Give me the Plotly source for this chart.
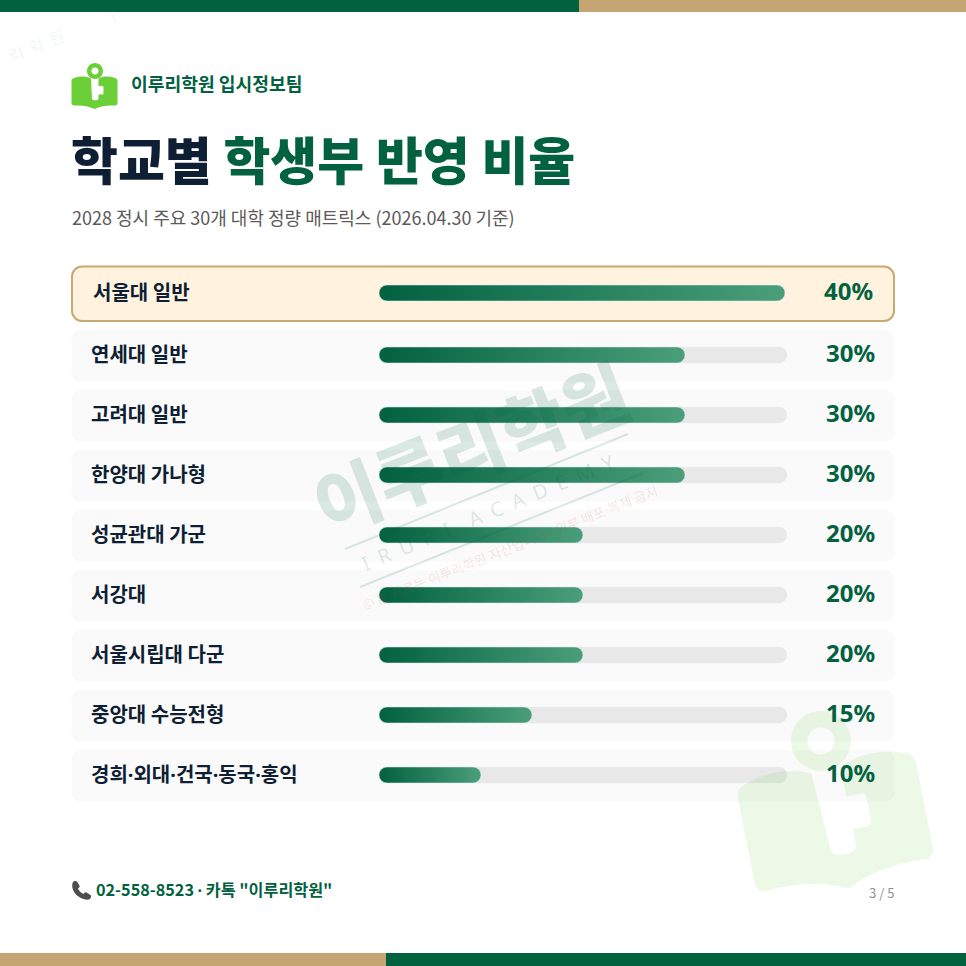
import math
import plotly.graph_objects as go

# Data
top_school = ["서울대 일반"]
top_value = [40]
schools = ["연세대 일반", "고려대 일반", "한양대 가나형", "성균관대 가군", "서강대",
           "서울시립대 다군", "중앙대 수능전형", "경희·외대·건국·동국·홍익"]
values = [30, 30, 30, 20, 20, 20, 15, 10]
value_labels = ["30%", "30%", "30%", "20%", "20%", "20%", "15%", "10%"]
top_label = ["40%"]

GREEN = "#02613f"
TAN = "#c5a572"
DARK = "#0f1f33"
LOGO = "#6ccf38"
FONT = "Noto Sans CJK KR"
SIZE = 966
# the CJK middle dot is full width, the reference has a narrow one
DOT = '<span style="font-family:Noto Sans">·</span>'


def px(x):
    return x / SIZE


def py(y):
    return 1 - y / SIZE


def to_paper(cmds):
    """Turn a list of (letter, x1, y1, x2, y2...) in pixels into a path in paper coords"""
    parts = []
    for c in cmds:
        nums = c[1:]
        pts = []
        for i in range(0, len(nums), 2):
            pts.append(f"{px(nums[i]):.5f},{py(nums[i + 1]):.5f}")
        parts.append(c[0] + " ".join(pts))
    return " ".join(parts)


def round_rect(x0, y0, x1, y1, r):
    k = r * 0.45
    return [
        ("M", x0 + r, y0), ("L", x1 - r, y0),
        ("C", x1 - k, y0, x1, y0 + k, x1, y0 + r),
        ("L", x1, y1 - r),
        ("C", x1, y1 - k, x1 - k, y1, x1 - r, y1),
        ("L", x0 + r, y1),
        ("C", x0 + k, y1, x0, y1 - k, x0, y1 - r),
        ("L", x0, y0 + r),
        ("C", x0, y0 + k, x0 + k, y0, x0 + r, y0),
        ("Z",),
    ]


def circle(cx, cy, r):
    k = r * 0.5523
    return [
        ("M", cx + r, cy),
        ("C", cx + r, cy + k, cx + k, cy + r, cx, cy + r),
        ("C", cx - k, cy + r, cx - r, cy + k, cx - r, cy),
        ("C", cx - r, cy - k, cx - k, cy - r, cx, cy - r),
        ("C", cx + k, cy - r, cx + r, cy - k, cx + r, cy),
        ("Z",),
    ]


def logo_cmds(ring):
    # book with a key shaped notch, on a 46 x 46 grid
    cmds = [
        ("M", 0, 18), ("C", 0, 16.5, 1, 15.5, 2.5, 15),
        ("C", 8, 13, 14, 13, 19.5, 15.5),
        ("L", 20.5, 35.5), ("C", 20.5, 38, 27, 38, 27, 35.5),
        ("L", 27, 31.5), ("L", 30.5, 31.5), ("C", 31.5, 31.5, 32, 31, 32, 30),
        ("L", 32, 24.5), ("C", 32, 23.5, 31.5, 23, 30.5, 23), ("L", 27, 23),
        ("L", 27, 15.5), ("C", 32, 13, 38, 13, 43.5, 15),
        ("C", 45, 15.5, 46, 16.5, 46, 18),
        ("L", 46, 40), ("C", 46, 41.5, 45, 42.5, 43.5, 42.5),
        ("C", 36, 42, 29, 43, 23, 46),
        ("C", 17, 43, 10, 42, 2.5, 42.5),
        ("C", 1, 42.5, 0, 41.5, 0, 40), ("Z",),
    ]
    cmds += circle(23.5, 8, ring)
    cmds += circle(23.5, 8, ring * 0.45)
    return cmds


def place_logo(cx, cy, scale, deg, ring=8):
    # moves the logo so the key ring centre lands on cx, cy
    t = math.radians(deg)
    out = []
    for c in logo_cmds(ring):
        nums = c[1:]
        new = [c[0]]
        for i in range(0, len(nums), 2):
            x = (nums[i] - 23.5) * scale
            y = (nums[i + 1] - 8) * scale
            new.append(cx + x * math.cos(t) + y * math.sin(t))
            new.append(cy - x * math.sin(t) + y * math.cos(t))
        out.append(tuple(new))
    return out


def add_path(fig, cmds, fill, layer="below", line=None, opacity=1):
    fig.add_shape(type="path", xref="paper", yref="paper", path=to_paper(cmds),
                  fillcolor=fill, opacity=opacity, layer=layer,
                  line=line or dict(width=0))


def add_text(fig, x, y, text, size, color, anchor="left", weight=400, angle=0, family=FONT):
    fig.add_annotation(xref="paper", yref="paper", x=px(x), y=py(y), text=text,
                       showarrow=False, xanchor=anchor, yanchor="middle", textangle=angle,
                       font=dict(family=family, size=size, color=color, weight=weight))


fig = go.Figure()

# tracks and filled bars, first row has its own slightly narrower subplot
fig.add_trace(go.Bar(y=top_school, x=[40], orientation="h", marker=dict(color="#e8e8e8"),
                     xaxis="x2", yaxis="y2", hoverinfo="skip", showlegend=False))
fig.add_trace(go.Bar(y=top_school, x=top_value, orientation="h", marker=dict(color=GREEN),
                     xaxis="x2", yaxis="y2", showlegend=False))
fig.add_trace(go.Bar(y=schools, x=[40] * len(schools), orientation="h", marker=dict(color="#e8e8e8"),
                     hoverinfo="skip", showlegend=False))
fig.add_trace(go.Bar(y=schools, x=values, orientation="h", marker=dict(color=GREEN),
                     showlegend=False))

# Top and bottom colour bands
add_path(fig, [("M", 0, 0), ("L", 579, 0), ("L", 579, 12), ("L", 0, 12), ("Z",)], GREEN)
add_path(fig, [("M", 579, 0), ("L", 966, 0), ("L", 966, 12), ("L", 579, 12), ("Z",)], TAN)
add_path(fig, [("M", 0, 953), ("L", 386, 953), ("L", 386, 966), ("L", 0, 966), ("Z",)], TAN)
add_path(fig, [("M", 386, 953), ("L", 966, 953), ("L", 966, 966), ("L", 386, 966), ("Z",)], GREEN)

# Row backgrounds
add_path(fig, round_rect(72, 266.5, 894, 321, 10), "#fff3e0", line=dict(color="#c9a871", width=2))
for i in range(len(schools)):
    add_path(fig, round_rect(71.5, 330 + i * 60, 894.5, 381.5 + i * 60, 9), "#fafafa")

# Header
add_path(fig, place_logo(95, 71, 1, 0), LOGO)
add_text(fig, 129, 83, "이루리학원 입시정보팀", 18.2, GREEN, weight=700)
add_text(fig, 69, 158, f'학교별 <span style="color:{GREEN}">학생부 반영 비율</span>', 51, DARK, weight=900)
add_text(fig, 70, 217, "2028 정시 주요 30개 대학 정량 매트릭스 (2026.04.30 기준)", 18, "#5a5a5a")

# Row labels
fig.add_annotation(xref="paper", yref="y2", x=px(91), y=top_school[0], yshift=1, text=top_school[0], showarrow=False,
                   xanchor="left", font=dict(family=FONT, size=20, color=DARK, weight=700))
fig.add_annotation(xref="paper", yref="y2", x=px(875), y=top_school[0], yshift=2, text=top_label[0], showarrow=False,
                   xanchor="right", font=dict(family="Noto Sans", size=24, color=GREEN, weight=700))
for name, label in zip(schools, value_labels):
    fig.add_annotation(xref="paper", yref="y", x=px(89), y=name, yshift=2, text=name.replace("·", DOT), showarrow=False,
                       xanchor="left", font=dict(family=FONT, size=20, color=DARK, weight=700))
    fig.add_annotation(xref="paper", yref="y", x=px(877), y=name, yshift=3, text=label, showarrow=False,
                       xanchor="right", font=dict(family="Noto Sans", size=24, color=GREEN, weight=700))

# Footer
phone = [
    ("M", 73, 882), ("C", 74, 881, 76, 880.5, 77, 881.5), ("L", 79.5, 885.5),
    ("C", 80, 886.5, 79, 888, 78, 888.5), ("C", 79, 891, 81, 893, 83.5, 894),
    ("C", 84, 893, 85.5, 892, 86.5, 892.5), ("L", 90.5, 895), ("C", 91.5, 896, 91, 898, 90, 899),
    ("C", 86, 901, 80, 898, 76.5, 895), ("C", 73, 891.5, 71, 886, 73, 882), ("Z",),
]
add_path(fig, phone, "#4d4d4d")
add_text(fig, 93.5, 889, f'02-558-8523 {DOT} 카톡 "이루리학원"', 16.2, GREEN, weight=700)
add_text(fig, 896, 892, "3 / 5", 13, "#8f8f8f", anchor="right")

# Watermarks
add_path(fig, place_logo(821, 741, 3.95, 11.3, ring=7.6), LOGO, layer="above", opacity=0.12)
for pts in [((345, 549), (628, 434)), ((360, 587), (643, 473))]:
    fig.add_shape(type="line", xref="paper", yref="paper", x0=px(pts[0][0]), y0=py(pts[0][1]),
                  x1=px(pts[1][0]), y1=py(pts[1][1]), line=dict(color="rgba(2,97,63,0.14)", width=2), layer="above")
add_text(fig, 469, 445, "이루리학원", 72, "rgba(2,97,63,0.14)", anchor="center", weight=900, angle=-21.5)
add_text(fig, 488, 512, "\u00a0\u00a0".join("IRURI") + "\u00a0\u00a0\u00a0\u00a0" + "\u00a0\u00a0".join("ACADEMY"),
         20, "rgba(2,97,63,0.15)", anchor="center", angle=-22.5, family="Noto Sans")
add_text(fig, 510, 547, f"© 본 자료는 이루리학원 자산입니다 {DOT} 외부 배포{DOT}복제 금지", 13.5, "rgba(200,60,50,0.14)",
         anchor="center", angle=-21.5)
add_text(fig, 36, 45, "리\u00a0\u00a0학\u00a0\u00a0원", 16, "rgba(2,97,63,0.08)", anchor="center", angle=-22)
add_text(fig, 113, 18, "I", 13, "rgba(2,97,63,0.08)", anchor="center", angle=-22, family="Noto Sans")

fig.update_layout(
    width=SIZE, height=SIZE,
    margin=dict(l=0, r=0, t=0, b=0),
    paper_bgcolor="white", plot_bgcolor="rgba(0,0,0,0)",
    barmode="overlay", bargap=1 - 16 / 60,
    xaxis=dict(domain=[px(379), px(787)], range=[0, 40], visible=False, fixedrange=True),
    yaxis=dict(domain=[py(805), py(325)], autorange="reversed", visible=False, fixedrange=True),
    xaxis2=dict(domain=[px(379), px(785)], range=[0, 40], visible=False, fixedrange=True, anchor="y2"),
    yaxis2=dict(domain=[py(323), py(263)], visible=False, fixedrange=True, anchor="x2"),
)

# Plotly bars have no gradient fill and only round the far end,
# so the drawn bars get both ends rounded and the gradient here
gradient_js = """
document.body.style.margin = '0';
var svg = document.querySelector('.main-svg');
var ns = 'http://www.w3.org/2000/svg';
var grad = document.createElementNS(ns, 'linearGradient');
grad.setAttribute('id', 'barfill');
[['0%', '#02613f'], ['100%', '#4b9e7a']].forEach(function (s) {
    var st = document.createElementNS(ns, 'stop');
    st.setAttribute('offset', s[0]);
    st.setAttribute('stop-color', s[1]);
    grad.appendChild(st);
});
svg.querySelector('defs').appendChild(grad);
document.querySelectorAll('.barlayer .point path').forEach(function (p) {
    var b = p.getBBox();
    var r = b.height / 2;
    p.setAttribute('d', 'M' + (b.x + r) + ',' + b.y + 'H' + (b.x + b.width - r)
        + 'A' + r + ',' + r + ' 0 0 1 ' + (b.x + b.width - r) + ',' + (b.y + b.height)
        + 'H' + (b.x + r) + 'A' + r + ',' + r + ' 0 0 1 ' + (b.x + r) + ',' + b.y + 'Z');
    if (p.style.fill === 'rgb(2, 97, 63)') { p.style.fill = 'url(#barfill)'; }
});
"""

fig.write_html("out.html", post_script=gradient_js, config={"displayModeBar": False})
